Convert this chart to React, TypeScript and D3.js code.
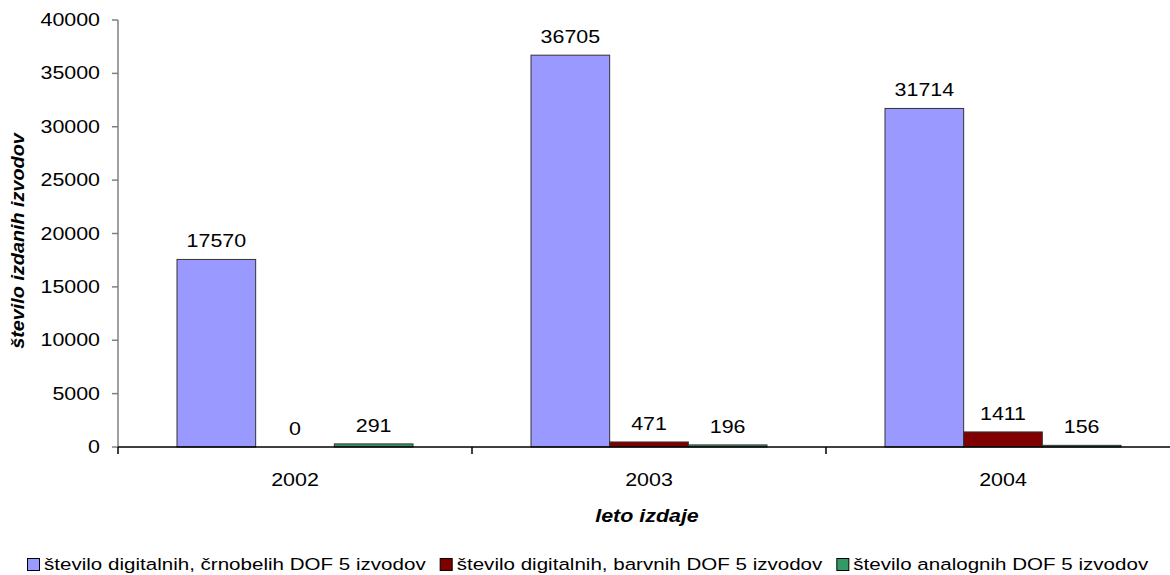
import React, { useEffect, useRef } from "react";
import * as d3 from "d3";

const years = ["2002", "2003", "2004"];
const seriesNames = [
  "število digitalnih, črnobelih DOF 5 izvodov",
  "število digitalnih, barvnih DOF 5 izvodov",
  "število analognih DOF 5 izvodov",
];
const blackWhite = [17570, 36705, 31714];
const colour = [0, 471, 1411];
const analog = [291, 196, 156];
const seriesColors = ["#9999FF", "#800000", "#339966"];
const yTicks = [0, 5000, 10000, 15000, 20000, 25000, 30000, 35000, 40000];

const W = 1170;
const H = 575;
const FONT = "Arial, 'Liberation Sans', sans-serif";
// the chart's lettering is set wide, so glyphs are stretched horizontally
const SX = 1.19;
const LEGEND_SX = 1.21;

type Sel = d3.Selection<SVGGElement, unknown, null, undefined>;

function label(
  parent: Sel,
  x: number,
  y: number,
  text: string,
  opts: { size?: number; anchor?: string; bold?: boolean; italic?: boolean; rotate?: number; sx?: number } = {}
) {
  const { size = 18, anchor = "middle", bold = false, italic = false, rotate = 0, sx = SX } = opts;
  return parent
    .append("text")
    .attr("transform", `translate(${x},${y}) rotate(${rotate}) scale(${sx},1)`)
    .attr("text-anchor", anchor)
    .attr("font-family", FONT)
    .attr("font-size", size)
    .attr("font-weight", bold ? "bold" : "normal")
    .attr("font-style", italic ? "italic" : "normal")
    .attr("fill", "#000")
    .text(text);
}

export default function App() {
  const ref = useRef<SVGSVGElement | null>(null);

  useEffect(() => {
    const svg = d3.select(ref.current);
    svg.selectAll("*").remove();

    const left = 118, right = 1180, top = 20, bottom = 447;
    const values = [blackWhite, colour, analog];

    const x = d3.scaleBand().domain(years).range([left, right]).paddingInner(0).paddingOuter(0);
    const inner = d3
      .scaleBand()
      .domain(seriesNames)
      .range([0, x.bandwidth()])
      .paddingOuter(0.75)
      .paddingInner(0);
    const y = d3.scaleLinear().domain([0, 40000]).range([bottom, top]);

    const g = svg.append("g") as unknown as Sel;

    // bars with value labels
    seriesNames.forEach((name, si) => {
      years.forEach((yr, i) => {
        const v = values[si][i];
        const bx = (x(yr) as number) + (inner(name) as number);
        if (v > 0) {
          g.append("rect")
            .attr("x", bx)
            .attr("y", y(v))
            .attr("width", inner.bandwidth())
            .attr("height", bottom - y(v))
            .attr("fill", seriesColors[si])
            .attr("stroke", "#333")
            .attr("stroke-width", 1);
        }
        label(g, bx + inner.bandwidth() / 2, y(v) - 12, String(v));
      });
    });

    // y axis
    g.append("line")
      .attr("x1", left)
      .attr("x2", left)
      .attr("y1", top)
      .attr("y2", bottom)
      .attr("stroke", "#808080")
      .attr("stroke-width", 1.5);
    yTicks.forEach((t) => {
      g.append("line")
        .attr("x1", left - 6)
        .attr("x2", left)
        .attr("y1", y(t))
        .attr("y2", y(t))
        .attr("stroke", "#808080")
        .attr("stroke-width", 1.5);
      label(g, left - 18, y(t) + 6, String(t), { anchor: "end" });
    });

    // x axis
    g.append("line")
      .attr("x1", left)
      .attr("x2", right)
      .attr("y1", bottom)
      .attr("y2", bottom)
      .attr("stroke", "#000")
      .attr("stroke-width", 1.5);
    [...years.map((d) => x(d) as number), right].forEach((px) => {
      g.append("line")
        .attr("x1", px)
        .attr("x2", px)
        .attr("y1", bottom)
        .attr("y2", bottom + 7)
        .attr("stroke", "#000")
        .attr("stroke-width", 1.5);
    });
    years.forEach((d) => {
      label(g, (x(d) as number) + x.bandwidth() / 2, 486, d);
    });

    // axis titles
    label(g, 647, 522, "leto izdaje", { bold: true, italic: true });
    label(g, 24, 241, "število izdanih izvodov", { bold: true, italic: true, rotate: -90, sx: 1.1 });

    // legend
    let cx = 27;
    seriesNames.forEach((name, i) => {
      g.append("rect")
        .attr("x", cx + 0.5)
        .attr("y", 558.5)
        .attr("width", 12)
        .attr("height", 12)
        .attr("fill", seriesColors[i])
        .attr("stroke", "#000")
        .attr("stroke-width", 1);
      const t = label(g, cx + 17, 570, name, { size: 17, anchor: "start", sx: LEGEND_SX });
      const w = (t.node() as SVGTextElement).getComputedTextLength() * LEGEND_SX;
      cx = cx + 17 + w + 14;
    });
  }, []);

  return (
    <svg
      ref={ref}
      width={W}
      height={H}
      style={{ position: "absolute", left: 0, top: 0, background: "#fff" }}
    />
  );
}
